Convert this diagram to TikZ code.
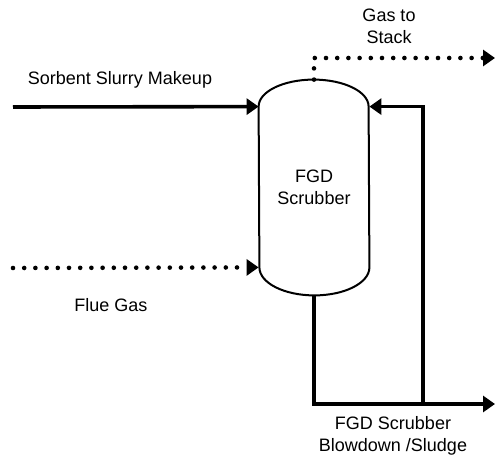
\documentclass[tikz,border=0pt]{standalone}
\usepackage{fontspec}
\setmainfont{Liberation Sans}
\usetikzlibrary{arrows.meta,positioning}
\tikzset{
  liquid/.style={-{Triangle[length=6pt,width=8pt]},draw=black,line width=1.8pt},
  gas/.style={-{Triangle[length=6pt,width=8pt]},draw=black,line width=2.3pt,
    line cap=round,dash pattern=on 0pt off 5.6pt},
  pipe/.style={draw=black,line width=1.8pt},
  vessel/.style={draw=black,line width=1pt,line join=round},
  streamlabel/.style={font=\fontsize{9}{11}\selectfont,align=center,inner sep=0pt},
}

\begin{document}
\begin{tikzpicture}[x=0.5pt,y=-0.5pt]
\useasboundingbox (0,0) rectangle (496,458);

% scrubber column
\node[streamlabel,minimum width=55pt,minimum height=80pt] (scrubber) at (314,187)
  {FGD\\Scrubber};
\draw[vessel] (scrubber.north west)
  arc[start angle=180,end angle=0,x radius=27.5pt,y radius=13.5pt]
  -- (scrubber.south east)
  arc[start angle=0,end angle=-180,x radius=27.5pt,y radius=14pt] -- cycle;
\coordinate (top) at ([yshift=13.5pt]scrubber.north);
\coordinate (bottom) at ([yshift=-14pt]scrubber.south);

% feeds
\coordinate (sorbentin) at (13,107);
\coordinate (fluein) at (13,268);
\draw[liquid] (sorbentin) -- (scrubber.north west);
\draw[gas] (fluein) -- (scrubber.south west);
\node[streamlabel] (sorbentlabel) at (120,80) {Sorbent Slurry Makeup};
\node[streamlabel] (fluelabel) at (111,305) {Flue Gas};

% gas to stack
\coordinate (stackturn) at (314,58);
\coordinate (stack) at (495,58);
\draw[gas] (top) -- (stackturn) -- (stack);
\node[streamlabel] (stacklabel) at (389,26) {Gas to\\Stack};

% blowdown and recycle
\coordinate (split) at (423,404);
\coordinate (blowdown) at (495,404);
\draw[pipe] (bottom) |- (split);
\draw[liquid] (split) -- (blowdown);
\draw[liquid] (split) |- (scrubber.north east);
\node[streamlabel] (blowdownlabel) at (393,436) {FGD Scrubber\\Blowdown /Sludge};
\end{tikzpicture}
\end{document}
